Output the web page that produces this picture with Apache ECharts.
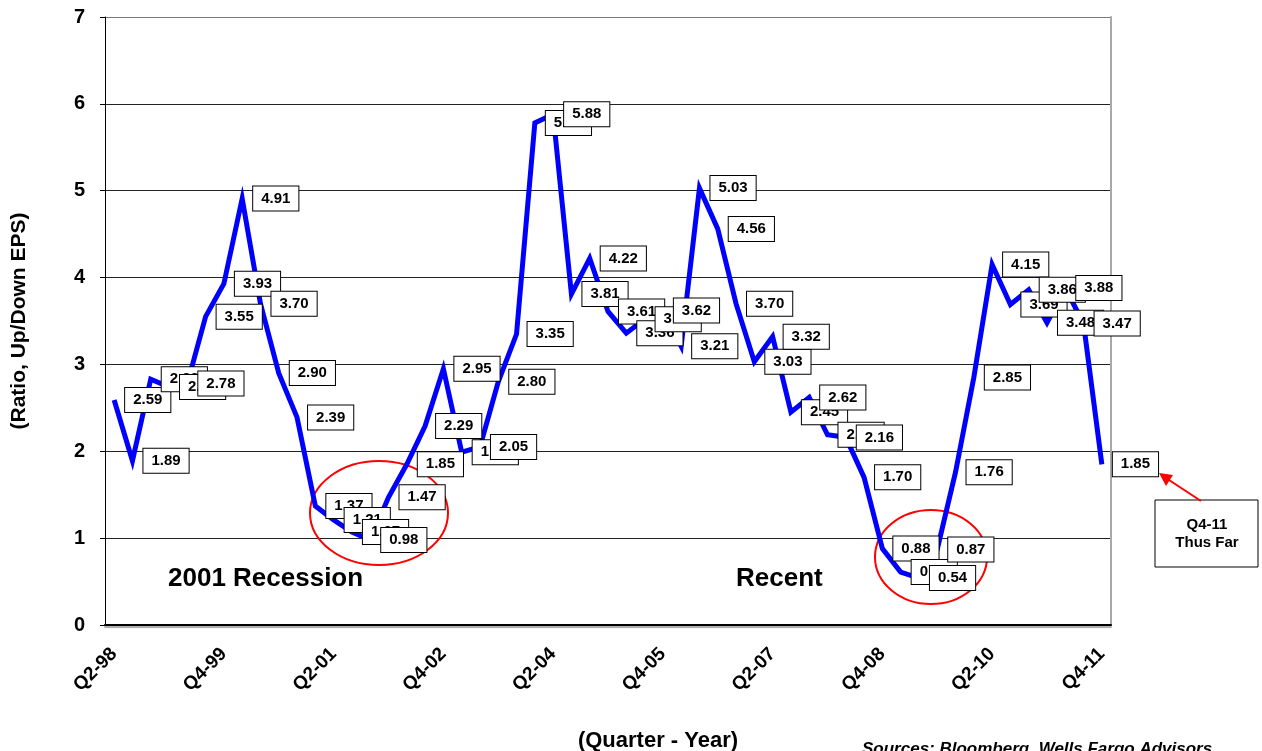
<!DOCTYPE html>
<html>
<head>
<meta charset="utf-8">
<script src="https://cdn.jsdelivr.net/npm/echarts@6/dist/echarts.min.js"></script>
<style>
html,body{margin:0;padding:0;background:#fff;}
#chart{width:1262px;height:751px;}
</style>
</head>
<body>
<div id="chart"></div>
<script>
const quarters = [
  'Q2-98','Q3-98','Q4-98','Q1-99','Q2-99','Q3-99','Q4-99','Q1-00','Q2-00','Q3-00','Q4-00',
  'Q1-01','Q2-01','Q3-01','Q4-01','Q1-02','Q2-02','Q3-02','Q4-02','Q1-03','Q2-03','Q3-03','Q4-03',
  'Q1-04','Q2-04','Q3-04','Q4-04','Q1-05','Q2-05','Q3-05','Q4-05','Q1-06','Q2-06','Q3-06','Q4-06',
  'Q1-07','Q2-07','Q3-07','Q4-07','Q1-08','Q2-08','Q3-08','Q4-08','Q1-09','Q2-09','Q3-09','Q4-09',
  'Q1-10','Q2-10','Q3-10','Q4-10','Q1-11','Q2-11','Q3-11','Q4-11'
];
const upDownRatio = [
  2.59, 1.89, 2.83, 2.74, 2.78, 3.55, 3.93, 4.91, 3.70, 2.90, 2.39,
  1.37, 1.21, 1.07, 0.98, 1.47, 1.85, 2.29, 2.95, 1.99, 2.05, 2.80, 3.35,
  5.78, 5.88, 3.81, 4.22, 3.61, 3.36, 3.52, 3.62, 3.21, 5.03, 4.56, 3.70,
  3.03, 3.32, 2.45, 2.62, 2.19, 2.16, 1.70, 0.88, 0.61, 0.54, 0.87, 1.76,
  2.85, 4.15, 3.69, 3.86, 3.48, 3.88, 3.47, 1.85
];
const yTicks = { min: 0, max: 7, interval: 1 };
const yName = '(Ratio, Up/Down EPS)';
const xName = '(Quarter - Year)';
const sourceText = 'Sources: Bloomberg, Wells Fargo Advisors';
const noteText = 'Q4-11\nThus Far';
const annotations = ['2001 Recession', 'Recent'];

const FF = '"Liberation Sans", Arial, sans-serif';
const chart = echarts.init(document.getElementById('chart'), null, { renderer: 'canvas' });

const option = {
  animation: false,
  backgroundColor: '#fff',
  grid: { left: 105, right: 151, top: 17, bottom: 126, containLabel: false, outerBoundsMode: 'none' },
  xAxis: {
    type: 'category',
    data: quarters,
    boundaryGap: true,
    axisLine: { lineStyle: { color: '#000', width: 2, shadowColor: 'rgba(0,0,0,0.35)', shadowOffsetY: 2, shadowBlur: 1 } },
    axisTick: { show: false },
    axisLabel: { interval: 5, rotate: 45, fontSize: 19, fontWeight: 'bold', color: '#000', fontFamily: FF, margin: 26 },
    splitLine: { show: false },
    name: xName,
    nameLocation: 'middle',
    nameGap: 105,
    nameMoveOverlap: false,
    nameTextStyle: { fontSize: 22, fontWeight: 'bold', color: '#000', fontFamily: FF, padding: [0, 0, 0, 100] }
  },
  yAxis: [
    {
      type: 'value',
      min: yTicks.min, max: yTicks.max, interval: yTicks.interval,
      axisLine: { show: true, lineStyle: { color: '#000', width: 1 } },
      axisTick: { show: true, length: 5, lineStyle: { color: '#000' } },
      axisLabel: { fontSize: 20, fontWeight: 'bold', color: '#000', fontFamily: FF, margin: 20 },
      splitLine: { show: true, lineStyle: { color: ['#000', '#222', '#222', '#222', '#222', '#222', '#222', '#7a7a7a'], width: 1 } },
      name: yName,
      nameLocation: 'middle',
      nameRotate: 90,
      nameGap: 75,
      nameMoveOverlap: false,
      nameTextStyle: { fontSize: 21, fontWeight: 'bold', color: '#000', fontFamily: FF }
    },
    {
      type: 'value',
      position: 'right',
      min: yTicks.min, max: yTicks.max, interval: yTicks.interval,
      axisLine: { show: true, lineStyle: { color: '#a8a8a8', width: 2 } },
      axisTick: { show: false },
      axisLabel: { show: false },
      splitLine: { show: false }
    }
  ],
  series: [
    {
      type: 'line',
      data: upDownRatio,
      yAxisIndex: 0,
      symbol: 'circle',
      symbolSize: 2,
      showSymbol: true,
      itemStyle: { color: 'rgba(0,0,0,0)' },
      lineStyle: { color: '#0000ff', width: 5, join: 'miter' },
      emphasis: { disabled: true },
      label: {
        show: true,
        position: 'right',
        distance: 10,
        formatter: p => Number(p.value).toFixed(2),
        backgroundColor: '#fff',
        borderColor: '#000',
        borderWidth: 1,
        padding: [5, 8, 4, 8],
        color: '#000',
        fontWeight: 'bold',
        fontSize: 15,
        fontFamily: FF
      },
      z: 3
    }
  ],
  graphic: [
    { type: 'ellipse', shape: { cx: 379, cy: 513, rx: 69, ry: 52 }, style: { fill: 'none', stroke: '#ff0000', lineWidth: 2 }, z: 2 },
    { type: 'ellipse', shape: { cx: 931, cy: 557, rx: 56, ry: 47 }, style: { fill: 'none', stroke: '#ff0000', lineWidth: 2 }, z: 2 },
    { type: 'text', left: 168, top: 566, style: { text: annotations[0], font: 'bold 26px ' + FF, fill: '#000' }, z: 10 },
    { type: 'text', left: 736, top: 566, style: { text: annotations[1], font: 'bold 26px ' + FF, fill: '#000' }, z: 10 },
    { type: 'rect', shape: { x: 1155, y: 500, width: 103, height: 67 }, style: { fill: '#fff', stroke: '#000', lineWidth: 1 }, z: 10 },
    { type: 'text', x: 1207, y: 534, style: { text: noteText, font: 'bold 15px ' + FF, fill: '#000', align: 'center', verticalAlign: 'middle', lineHeight: 18 }, z: 11 },
    { type: 'line', shape: { x1: 1201, y1: 501, x2: 1169, y2: 480 }, style: { stroke: '#ff0000', lineWidth: 2 }, z: 10 },
    { type: 'polygon', shape: { points: [[1159, 473], [1173, 475], [1166, 486]] }, style: { fill: '#ff0000' }, z: 10 },
    { type: 'text', left: 862, top: 741, style: { text: sourceText, font: 'italic bold 17px ' + FF, fill: '#000' }, z: 10 }
  ]
};
chart.setOption(option);
</script>
</body>
</html>
